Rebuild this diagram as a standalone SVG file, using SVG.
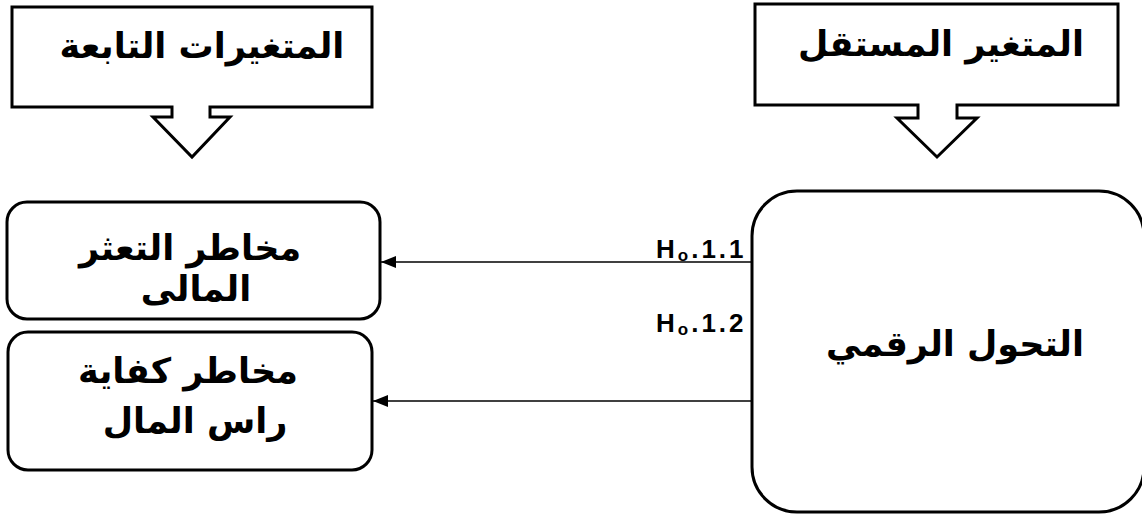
<svg xmlns="http://www.w3.org/2000/svg" width="1142" height="516" viewBox="0 0 1142 516">
  <style>
    .shape { fill: #ffffff; stroke: #000000; stroke-width: 3; stroke-linejoin: miter; }
    .ar { font-family: "DejaVu Sans", "Noto Sans", sans-serif; font-weight: bold; font-size: 35px; fill: #000000; text-anchor: middle; direction: rtl; }
    .hyp { font-family: "Liberation Sans", Arial, sans-serif; font-weight: bold; font-size: 26px; fill: #000000; letter-spacing: 3px; }
    .conn { fill: none; stroke: #000000; stroke-width: 1.5; }
  </style>
  <defs>
    <marker id="arrowhead" markerUnits="userSpaceOnUse" markerWidth="16" markerHeight="14" refX="15" refY="7" orient="auto">
      <path d="M0,1 L15,7 L0,13 Z" fill="#000000"/>
    </marker>
  </defs>
  <rect width="1142" height="516" fill="#ffffff"/>

  <!-- heading callout: dependent variables -->
  <g id="dependent-heading">
    <path class="shape" d="M12,7 H372 V107 H210 V117 H230 L192,157 L153,117 H172 V107 H12 Z"/>
    <text class="ar" x="202" y="58">المتغيرات التابعة</text>
  </g>

  <!-- heading callout: independent variable -->
  <g id="independent-heading">
    <path class="shape" d="M755,4 H1118 V105 H957 V118 H977 L937,157 L897,118 H918 V105 H755 Z"/>
    <text class="ar" x="941" y="56">المتغير المستقل</text>
  </g>

  <!-- independent variable node -->
  <g id="digital-transformation">
    <rect class="shape" x="752" y="191" width="392" height="321" rx="45" ry="45"/>
    <text class="ar" x="955" y="356">التحول الرقمي</text>
  </g>

  <!-- dependent variable nodes -->
  <g id="financial-distress-risk">
    <rect class="shape" x="7" y="202" width="373" height="117" rx="20" ry="20"/>
    <text class="ar" x="190" y="260">مخاطر التعثر</text>
    <text class="ar" x="196" y="301">المالى</text>
  </g>

  <g id="capital-adequacy-risk">
    <rect class="shape" x="8" y="332" width="364" height="138" rx="20" ry="20"/>
    <text class="ar" x="188" y="383">مخاطر كفاية</text>
    <text class="ar" x="195" y="433">راس المال</text>
  </g>

  <!-- connectors with hypothesis labels -->
  <g id="connectors">
    <line class="conn" x1="751" y1="262" x2="381" y2="262" marker-end="url(#arrowhead)"/>
    <line class="conn" x1="751" y1="401" x2="373" y2="401" marker-end="url(#arrowhead)"/>
    <text class="hyp" x="656" y="258">H<tspan font-size="17" dy="3">o</tspan><tspan dy="-3">.1.1</tspan></text>
    <text class="hyp" x="656" y="332">H<tspan font-size="17" dy="3">o</tspan><tspan dy="-3">.1.2</tspan></text>
  </g>
</svg>
